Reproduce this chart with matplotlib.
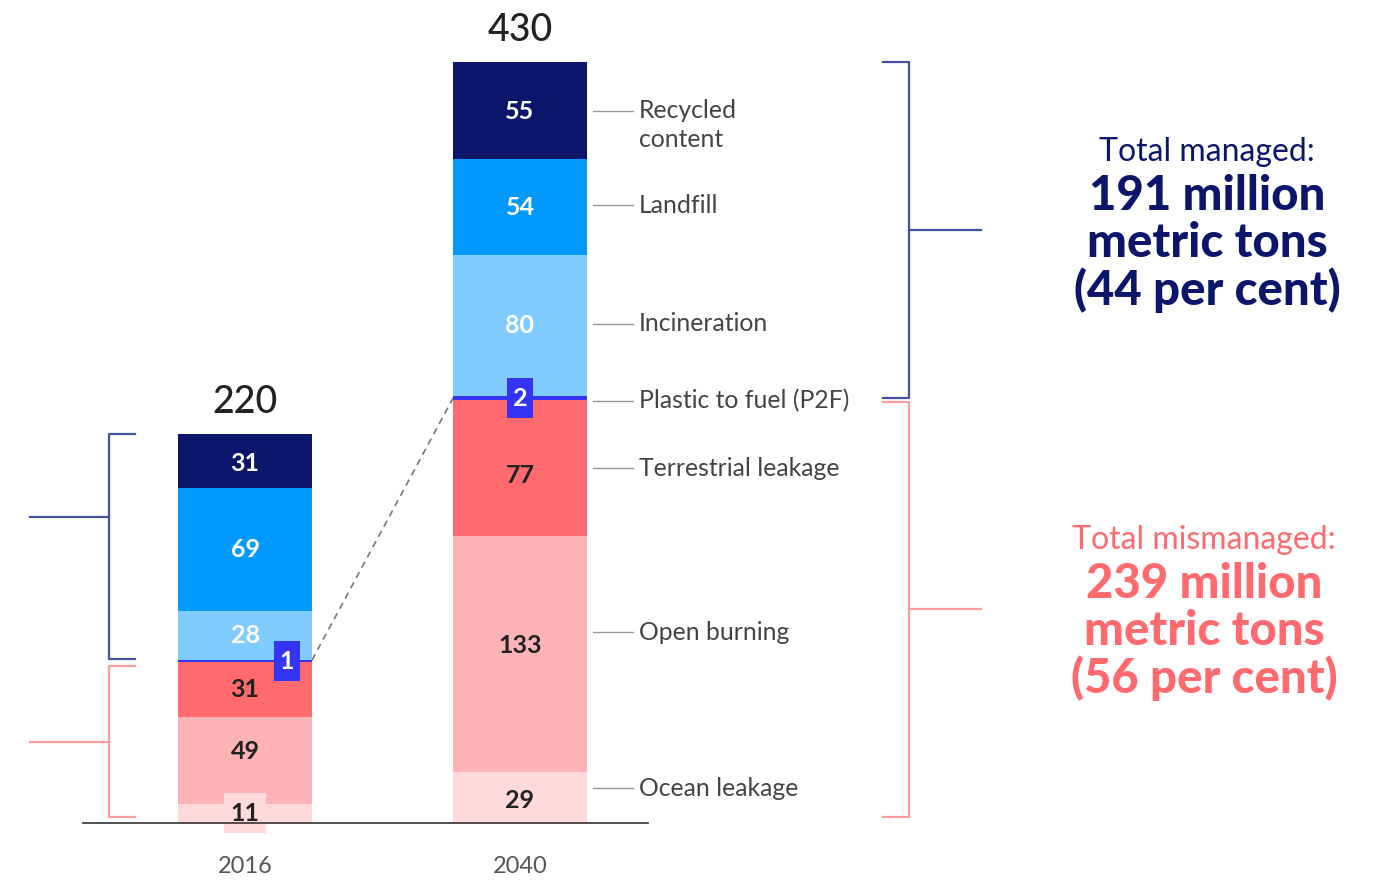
import matplotlib
matplotlib.use('Agg')
import matplotlib.pyplot as plt
from matplotlib.patches import Rectangle

plt.rcParams['font.family'] = ['Lato', 'DejaVu Sans']

years = ['2016', '2040']
categories = ['Ocean leakage', 'Open burning', 'Terrestrial leakage',
              'Plastic to fuel (P2F)', 'Incineration', 'Landfill', 'Recycled\ncontent']
values_2016 = [11, 49, 31, 1, 28, 69, 31]
values_2040 = [29, 133, 77, 2, 80, 54, 55]
totals = [220, 430]
managed_text = ['Total managed:', '191 million', 'metric tons', '(44 per cent)']
mismanaged_text = ['Total mismanaged:', '239 million', 'metric tons', '(56 per cent)']

colors = ['#ffdadb', '#feb4b7', '#fe6a6e', '#3434f2', '#80cbff', '#0099ff', '#0b166b']
text_colors = ['#222222', '#222222', '#222222', 'white', 'white', 'white', 'white']
NAVY = '#0b166b'
RED = '#fe6a6e'
NAVY_LINE = '#44529f'
RED_LINE = '#ff9c9c'
GREY = '#555555'

W, H = 1387, 883
fig = plt.figure(figsize=(W / 100, H / 100), dpi=100)
ax = fig.add_axes([0, 0, 1, 1])
# 1 value unit = 1.77 px, 1 x unit = 275 px
PY, PX = 1.77, 275.0
ax.set_ylim(-(H - 823) / PY, 823 / PY)
ax.set_xlim(-245 / PX, (W - 245) / PX)
ax.axis('off')

bw = 134 / PX
xs = [0, 1]
series = [values_2016, values_2040]

for xi, vals in zip(xs, series):
    bottom = 0
    for i, v in enumerate(vals):
        ax.bar(xi, v, bw, bottom=bottom, color=colors[i], linewidth=0, zorder=2)
        bottom += v

# small nudges for the value labels (value units)
nudge = {(0, 1): 5, (1, 1): 5, (1, 2): -4, (1, 0): -2, (0, 6): -1.5, (1, 6): -0.5}

for xi, vals in zip(xs, series):
    bottom = 0
    for i, v in enumerate(vals):
        mid = bottom + v / 2
        if i == 3:
            bx = xi + (42 / PX if xi == 0 else 0)
            ax.add_patch(Rectangle((bx - 13 / PX, mid - 20 / PY), 26 / PX, 40 / PY,
                                   color=colors[3], zorder=4, linewidth=0))
            ax.text(bx, mid, str(v), ha='center', va='center', color='white',
                    fontsize=18, fontweight='bold', zorder=5)
        else:
            if xi == 0 and i == 0:
                ax.add_patch(Rectangle((xi - 21 / PX, mid - 20 / PY), 42 / PX, 40 / PY,
                                       color=colors[0], zorder=3, linewidth=0))
            ty = mid + nudge.get((xi, i), 0)
            ax.text(xi, ty, str(v), ha='center', va='center', color=text_colors[i],
                    fontsize=18, fontweight='bold', zorder=5)
        bottom += v

# totals and years
for xi, t, y in zip(xs, totals, years):
    ax.text(xi, t + 17.5, str(t), ha='center', va='center', fontsize=27,
            color='#222222', fontweight='medium')
    ax.text(xi, -24.5, y, ha='center', va='center', fontsize=17, color=GREY)

# baseline
ax.plot([-162 / PX, 403 / PX], [0, 0], color='#333333', lw=1.2, zorder=3)

# dashed connector between P2F segments
p2f_2016 = sum(values_2016[:3]) + values_2016[3]
p2f_2040 = sum(values_2040[:3]) + values_2040[3] / 2
ax.plot([bw / 2, 1 - bw / 2], [p2f_2016, p2f_2040], ls=(0, (4, 3)), color='#777777',
        lw=1.2, zorder=1)

# category labels for 2040
label_adj = [5, 12.4, 0, -1.5, 1, 1, 0]
bottom = 0
for i, v in enumerate(values_2040):
    mid = bottom + v / 2 + label_adj[i]
    x0 = 1 + bw / 2 + 6 / PX
    ax.plot([x0, x0 + 40 / PX], [mid, mid], color='#999999', lw=1)
    for k, line in enumerate(categories[i].split('\n')):
        ax.text(x0 + 46 / PX, mid - k * 29 / PY, line, ha='left', va='center',
                fontsize=17.8, color='#444444')
    bottom += v


def bracket(x, top, bot, tick, arm, color, arm_y=None):
    ax.plot([x + tick, x, x, x + tick], [top, top, bot, bot], color=color, lw=1.6)
    m = (top + bot) / 2 if arm_y is None else arm_y
    ax.plot([x, x + arm], [m, m], color=color, lw=1.6)


mis16 = sum(values_2016[:3])
mis40 = sum(values_2040[:3])
# left brackets (2016)
bx = -136 / PX
bracket(bx, totals[0], mis16 + values_2016[3] + 0.5, 26 / PX, -79 / PX, NAVY_LINE,
        arm_y=(823 - 517) / PY)
bracket(bx, mis16 - 2.5, 3.5, 26 / PX, -79 / PX, RED_LINE)
# right brackets (2040)
rx = 664 / PX
bracket(rx, totals[1], mis40 + values_2040[3] - 1, -26 / PX, 72 / PX, NAVY_LINE)
bracket(rx, mis40 - 1, 3.5, -26 / PX, 72 / PX, RED_LINE)

# side texts
for lines, col, y0, cx in [(managed_text, NAVY, (823 - 152) / PY, 962 / PX),
                           (mismanaged_text, RED, (823 - 540) / PY, 959 / PX)]:
    ax.text(cx, y0, lines[0], ha='center', va='center', fontsize=23, color=col)
    for k, s in enumerate(lines[1:]):
        ax.text(cx, y0 - (44 + 47 * k) / PY, s, ha='center', va='center', fontsize=34,
                color=col, fontweight='black')

fig.savefig('out.png', dpi=100, facecolor='white')
